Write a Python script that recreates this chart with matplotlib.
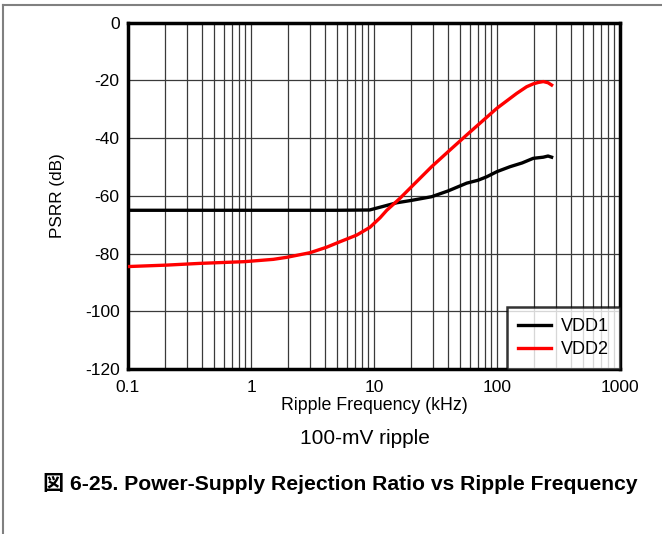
import matplotlib
matplotlib.use("Agg")
import matplotlib.pyplot as plt
from matplotlib.lines import Line2D
from matplotlib.ticker import FixedLocator, NullFormatter

plt.rcParams['font.family'] = ['Liberation Sans', 'Noto Sans CJK JP', 'DejaVu Sans']

# Data (frequency in kHz, PSRR in dB)
vdd1_freq = [0.1, 1, 5, 9.2, 12, 15.3, 20, 29.4, 40, 56.7, 70, 82.4, 100, 127.6, 160, 197, 238, 260, 278]
vdd1_psrr = [-65, -65, -65, -64.9, -63.6, -62.4, -61.6, -60.3, -58.3, -55.6, -54.6, -53.4, -51.6, -49.9, -48.6, -47.0, -46.6, -46.2, -46.6]

vdd2_freq = [0.1, 0.206, 0.385, 0.89, 1.52, 1.95, 3.02, 4.12, 5.29, 7.23, 9.27, 11.2, 12.7, 16.3,
             20.9, 29.4, 41.5, 56.7, 75.1, 99.5, 144.6, 174, 197, 217, 238, 260, 278]
vdd2_psrr = [-84.5, -84.0, -83.4, -82.8, -82.0, -81.3, -79.7, -77.8, -75.9, -73.6, -70.9, -67.6, -65.0, -60.8,
             -56.2, -49.9, -44.1, -38.9, -34.3, -29.7, -24.5, -22.2, -21.2, -20.7, -20.4, -20.8, -21.6]

x_ticks = [0.1, 1, 10, 100, 1000]
x_tick_labels = ['0.1', '1', '10', '100', '1000']
y_ticks = [0, -20, -40, -60, -80, -100, -120]
y_tick_labels = ['0', '-20', '-40', '-60', '-80', '-100', '-120']
series_names = ['VDD1', 'VDD2']
series_colors = ['#000000', '#ff0000']

fig = plt.figure(figsize=(6.62, 5.34), dpi=100)
ax = fig.add_axes([128 / 662, 1 - 369 / 534, (620 - 128) / 662, (369 - 22.7) / 534])

ax.set_xscale('log')
ax.set_xlim(0.1, 1000)
ax.set_ylim(-120, 0)

ax.plot(vdd1_freq, vdd1_psrr, color=series_colors[0], lw=2.4, label=series_names[0], zorder=3)
ax.plot(vdd2_freq, vdd2_psrr, color=series_colors[1], lw=2.4, label=series_names[1], zorder=3)

ax.xaxis.set_major_locator(FixedLocator(x_ticks))
ax.set_xticklabels(x_tick_labels)
minors = [m * d for d in [0.1, 1, 10, 100] for m in range(2, 10)]
ax.xaxis.set_minor_locator(FixedLocator(minors))
ax.xaxis.set_minor_formatter(NullFormatter())
ax.set_yticks(y_ticks)
ax.set_yticklabels(y_tick_labels)

ax.grid(which='major', axis='both', color='#3a3a3a', lw=0.9)
ax.grid(which='minor', axis='x', color='#3a3a3a', lw=0.9)
ax.set_axisbelow(True)

ax.tick_params(which='both', length=0, labelsize=12.5)
ax.tick_params(axis='x', pad=8)
ax.tick_params(axis='y', pad=6)
for s in ax.spines.values():
    s.set_linewidth(2.5)
    s.set_color('black')

ax.set_xlabel('Ripple Frequency (kHz)', fontsize=12.8, labelpad=1)
ax.set_ylabel('PSRR (dB)', fontsize=12.3, labelpad=14)

leg = ax.legend(loc='lower right', fontsize=13, frameon=True, fancybox=False,
                borderaxespad=0, handlelength=1.85, handletextpad=0.55,
                borderpad=0.6, labelspacing=0.35)
leg.get_frame().set_edgecolor('black')
leg.get_frame().set_linewidth(1.8)
for h in leg.get_lines():
    h.set_linewidth(2.4)

fig.text(365 / 662, 1 - 439 / 534, '100-mV ripple', fontsize=15, ha='center', va='center')
fig.text(340 / 662, 1 - 483 / 534, '図 6-25. Power-Supply Rejection Ratio vs Ripple Frequency',
         fontsize=15.2, fontweight='bold', ha='center', va='center')

fig.add_artist(Line2D([3 / 662, 3 / 662], [0, 1 - 5 / 534], transform=fig.transFigure, color='#808080', lw=1.5))
fig.add_artist(Line2D([3 / 662, 1], [1 - 5 / 534, 1 - 5 / 534], transform=fig.transFigure, color='#808080', lw=1.5))

fig.savefig('out.png', dpi=100)
